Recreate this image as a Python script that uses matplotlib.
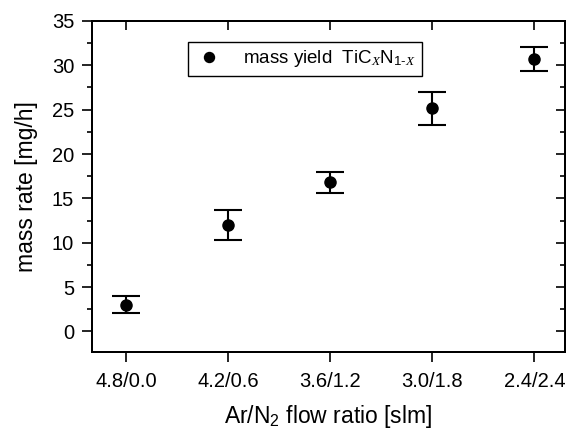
import numpy as np
import matplotlib.pyplot as plt
from matplotlib.ticker import MultipleLocator

plt.rcParams['font.family'] = 'Liberation Sans'
plt.rcParams['mathtext.fontset'] = 'custom'
plt.rcParams['mathtext.rm'] = 'Liberation Sans'
plt.rcParams['mathtext.it'] = 'Liberation Serif:italic'

# data
ratios = ['4.8/0.0', '4.2/0.6', '3.6/1.2', '3.0/1.8', '2.4/2.4']
mass_rate = [3.0, 12.0, 16.9, 25.2, 30.7]
err_up = [3.95, 13.7, 18.0, 27.0, 32.1]
err_low = [2.05, 10.3, 15.6, 23.3, 29.3]

x = np.arange(len(ratios))
yerr = [np.array(mass_rate) - np.array(err_low), np.array(err_up) - np.array(mass_rate)]

fig = plt.figure(figsize=(5.69, 4.36), dpi=100)
ax = fig.add_axes([0.161, 0.193, 0.832, 0.759])

ax.errorbar(x, mass_rate, yerr=yerr, fmt='none', ecolor='black',
            capsize=10, capthick=1.5, elinewidth=1.5)
ax.plot(x, mass_rate, 'o', color='black', ms=8,
        label=r'mass yield  TiC$_{\mathit{X}}$N$_{1\text{-}\mathit{X}}$')

ax.set_xlim(-0.34, 4.3)
ax.set_ylim(-2.3, 35)
ax.set_xticks(x)
ax.set_xticklabels(ratios)
ax.yaxis.set_major_locator(MultipleLocator(5))
ax.yaxis.set_minor_locator(MultipleLocator(2.5))
ax.tick_params(axis='both', which='major', direction='out', length=7.5, width=1.2,
               labelsize=14.5, top=False, right=False)
ax.tick_params(axis='x', which='major', pad=7)
ax.tick_params(axis='y', which='major', pad=5)
ax.tick_params(axis='y', which='minor', direction='out', length=3.5, width=1.2, right=False)

# inward ticks on the top and right sides
axr = ax.twinx()
axr.set_ylim(ax.get_ylim())
axr.yaxis.set_major_locator(MultipleLocator(5))
axr.yaxis.set_minor_locator(MultipleLocator(2.5))
axr.tick_params(axis='y', which='major', direction='in', length=6.5, width=1.2, labelright=False)
axr.tick_params(axis='y', which='minor', direction='in', length=3.5, width=1.2)
axt = ax.twiny()
axt.set_xlim(ax.get_xlim())
axt.set_xticks(x)
axt.tick_params(axis='x', direction='in', length=6.5, width=1.2, labeltop=False)

for a in (ax, axr, axt):
    for s in a.spines.values():
        s.set_linewidth(1.3)

ax.set_xlabel(r'Ar/N$_2$ flow ratio [slm]', fontsize=16.5, labelpad=9)
ax.set_ylabel('mass rate [mg/h]', fontsize=16.5, labelpad=10)

leg = ax.legend(loc='upper left', bbox_to_anchor=(0.203, 0.937), fontsize=13.5,
                frameon=True, fancybox=False, edgecolor='black', framealpha=1,
                handletextpad=1.0, borderpad=0.35, borderaxespad=0,
                handlelength=1.6, markerscale=0.9)
leg.get_frame().set_linewidth(1.0)

fig.savefig('out.png', dpi=100)
